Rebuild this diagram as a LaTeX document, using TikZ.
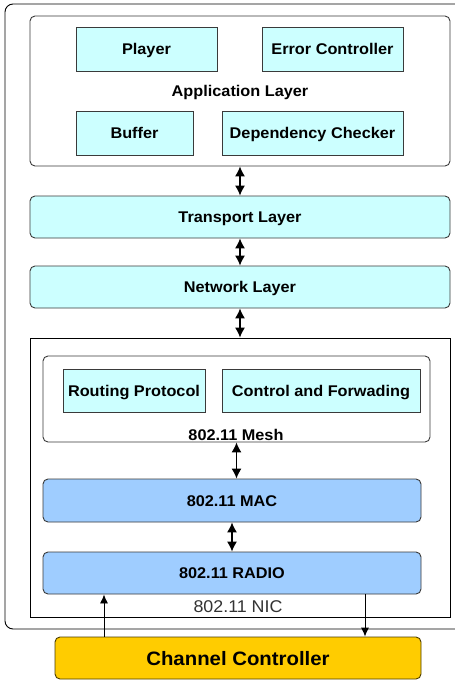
\documentclass[tikz,border=0pt]{standalone}
\usepackage{fontspec}
\setmainfont{Liberation Sans}[FakeStretch=1.05]
\usetikzlibrary{arrows.meta}

\definecolor{blockcyan}{HTML}{CCFFFF}
\definecolor{macblue}{HTML}{9FCDFF}
\definecolor{chgold}{HTML}{FFCC00}
\definecolor{edgegray}{HTML}{3A3A3A}

\tikzset{
  block/.style={draw=edgegray, fill=blockcyan, line width=0.9pt, inner sep=0pt,
    text height=11pt, text depth=0pt, font=\fontsize{15.5}{17}\selectfont\bfseries},
  layer/.style={block, rounded corners=5pt},
  holder/.style={layer, fill=white},
  updown/.style={{Latex[length=10pt,width=10pt]}-{Latex[length=10pt,width=10pt]}, line width=1.2pt},
  oneway/.style={-{Latex[length=9pt,width=8pt]}, line width=0.9pt},
}

\begin{document}
\begin{tikzpicture}[x=1pt,y=-1pt]
  \clip (0,0) rectangle (455,681);
  \fill[white] (0,0) rectangle (455,681);
  \draw[line width=0.9pt, rounded corners=8pt] (5,4) rectangle (485,629); % node frame

  % application layer
  \node[holder, minimum width=420pt, minimum height=150pt] (app) at (240,91) {};
  \node[block, minimum width=141pt, minimum height=44pt] (player) at (146.5,49) {Player};
  \node[block, minimum width=141pt, minimum height=44pt] (errctl) at (332.5,49) {Error Controller};
  \node[font=\fontsize{15.5}{17}\selectfont\bfseries] (applbl) at (240,92) {Application Layer};
  \node[block, minimum width=117pt, minimum height=44pt] (buffer) at (134.5,133) {Buffer};
  \node[block, minimum width=181pt, minimum height=44pt] (depchk) at (312.5,133) {Dependency Checker};

  % transport and network
  \node[layer, minimum width=420pt, minimum height=42pt] (transport) at (240,217) {Transport Layer};
  \node[layer, minimum width=420pt, minimum height=42pt] (network) at (240,287) {Network Layer};

  % 802.11 NIC
  \node[draw, line width=0.9pt, inner sep=0pt, minimum width=420pt, minimum height=279pt] (nic) at (240,477.5) {};
  \node[holder, minimum width=387pt, minimum height=86pt] (mesh) at (236.5,399) {};
  \node[block, minimum width=142pt, minimum height=43pt] (routing) at (134,390.5) {Routing Protocol};
  \node[block, minimum width=198pt, minimum height=43pt] (ctlfwd) at (321,390.5) {Control and Forwading};
  \node[font=\fontsize{15.5}{17}\selectfont\bfseries] (meshlbl) at (236,435) {802.11 Mesh};
  \node[layer, fill=macblue, minimum width=378pt, minimum height=43pt] (mac) at (232,500.5) {802.11 MAC};
  \node[layer, fill=macblue, minimum width=378pt, minimum height=42pt] (radio) at (232,573) {802.11 RADIO};
  \node[text=black!80, font=\fontsize{17}{19}\selectfont] (niclbl) at (238,607) {802.11 NIC};

  \node[layer, fill=chgold, draw=black!70!chgold, minimum width=366pt, minimum height=42pt,
    text height=14pt, font=\fontsize{19.4}{22}\selectfont\bfseries] (channel) at (238,658) {Channel Controller};

  % links between layers
  \draw[updown] (app.south) -- (transport.north);
  \draw[updown] (transport.south) -- (network.north);
  \draw[updown] (network.south) -- (nic.north);
  \draw[updown] (mesh.south) -- (mesh.south |- mac.north);
  \draw[updown] (mac.south) -- (radio.north);

  \coordinate (upx) at (104,0);
  \coordinate (downx) at (365,0);
  \draw[oneway] (upx |- channel.north) -- (upx |- radio.south);
  \draw[oneway] (downx |- radio.south) -- (downx |- channel.north);
\end{tikzpicture}
\end{document}
